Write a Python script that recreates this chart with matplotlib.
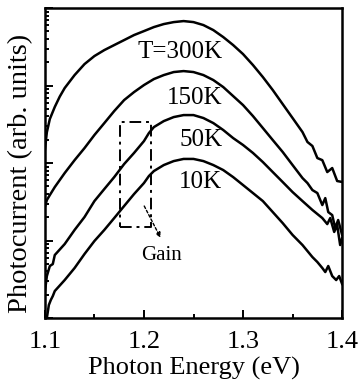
import matplotlib.pyplot as plt

# -----------------------------
# Data (photocurrent, arb. units, log axis)
# -----------------------------
e_300 = [1.100, 1.102, 1.105, 1.11, 1.115, 1.12, 1.13, 1.14, 1.15, 1.16, 1.17, 1.18, 1.19,
         1.20, 1.21, 1.22, 1.23, 1.24, 1.25, 1.26, 1.27, 1.28, 1.29, 1.30, 1.31, 1.32,
         1.33, 1.34, 1.35, 1.36, 1.365, 1.37, 1.375, 1.38, 1.385, 1.39, 1.395, 1.40]
pc_300 = [147, 250, 370, 530, 720, 929, 1366, 1893, 2404, 2871, 3333, 3865, 4487,
          5047, 5686, 6220, 6592, 6797, 6592, 6037, 5200, 4227, 3333, 2548, 1840, 1288,
          875, 577, 381, 251, 187, 166, 116, 109, 76.5, 86.2, 58.6, 57]

e_150 = [1.100, 1.102, 1.105, 1.11, 1.12, 1.13, 1.14, 1.15, 1.16, 1.17, 1.18, 1.19, 1.20,
         1.21, 1.22, 1.23, 1.24, 1.25, 1.26, 1.27, 1.28, 1.29, 1.30, 1.31, 1.32, 1.33,
         1.34, 1.35, 1.36, 1.365, 1.37, 1.375, 1.38, 1.383, 1.386, 1.39, 1.393, 1.396, 1.40]
pc_150 = [27.1, 33.3, 38.6, 49.0, 74.3, 109, 156, 230, 328, 469, 650, 824, 1015,
          1213, 1366, 1494, 1538, 1494, 1366, 1178, 957, 732, 560, 404, 283, 198,
          139, 94.2, 64.0, 55.2, 44.8, 41.0, 28.7, 35.3, 23.3, 21.3, 14.5, 18.4, 11.8]

e_50 = [1.100, 1.102, 1.105, 1.108, 1.11, 1.12, 1.13, 1.14, 1.15, 1.16, 1.17, 1.18, 1.19,
        1.20, 1.205, 1.21, 1.22, 1.23, 1.24, 1.25, 1.26, 1.27, 1.28, 1.29, 1.30, 1.31,
        1.32, 1.33, 1.34, 1.35, 1.36, 1.37, 1.38, 1.385, 1.388, 1.392, 1.395, 1.398, 1.40]
pc_50 = [2.17, 3.48, 4.69, 4.97, 6.50, 9.01, 13.7, 20.1, 32.3, 46.2, 65.9, 97.1, 135,
         192, 244, 291, 348, 392, 416, 416, 381, 328, 267, 210, 171, 135,
         103, 76.5, 56.9, 42.2, 32.3, 24.8, 19.5, 16.3, 19.5, 12.9, 15.8, 8.75, 10.8]

e_10 = [1.102, 1.104, 1.106, 1.108, 1.11, 1.12, 1.13, 1.14, 1.15, 1.16, 1.17, 1.18, 1.19,
        1.20, 1.205, 1.21, 1.22, 1.23, 1.24, 1.25, 1.26, 1.27, 1.28, 1.29, 1.30, 1.31,
        1.32, 1.33, 1.34, 1.35, 1.36, 1.37, 1.375, 1.38, 1.383, 1.386, 1.39, 1.394,
        1.397, 1.40]
pc_10 = [1.0, 1.47, 1.71, 1.92, 2.23, 3.09, 4.42, 6.70, 9.86, 13.7, 19.5, 27.9, 39.8,
         55.2, 68.0, 78.8, 94.2, 106, 113, 113, 106, 94.2, 81.2, 65.9, 52.0, 41.0,
         32.3, 23.3, 16.8, 11.8, 8.75, 6.12, 5.28, 4.42, 3.92, 4.69, 3.48, 3.09,
         3.48, 2.75]

curve_labels = ["T=300K", "150K", "50K", "10K"]
label_y = [2700, 690, 198, 57]

# gain box + arrow
box_x = [1.176, 1.207, 1.207, 1.176, 1.176]
box_y = [15, 15, 340, 340, 15]

# -----------------------------
# Plot
# -----------------------------
plt.rcParams["font.family"] = ["Liberation Serif", "DejaVu Serif"]

fig = plt.figure(figsize=(3.59, 3.85), dpi=100)
ax = fig.add_axes([0.125, 0.174, 0.828, 0.805])

for e, pc in [(e_300, pc_300), (e_150, pc_150), (e_50, pc_50), (e_10, pc_10)]:
    ax.plot(e, pc, color="black", lw=1.8)

for txt, y in zip(curve_labels, label_y):
    ax.text(1.279, y, txt, fontsize=18, ha="right", va="center")

ax.plot(box_x, box_y, color="black", lw=1.4, dashes=(6, 2.5, 1.5, 2.5))
ax.annotate("", xy=(1.218, 10.1), xytext=(1.199, 30),
            arrowprops=dict(arrowstyle="-|>", lw=1.0, ls=(0, (2, 1.5)),
                            color="black", mutation_scale=7))
ax.text(1.218, 6.5, "Gain", fontsize=15, ha="center", va="center")

ax.set_yscale("log")
ax.set_xlim(1.1, 1.4)
ax.set_ylim(1, 1e4)
ax.set_xticks([1.1, 1.2, 1.3, 1.4])
ax.set_xticks([1.15, 1.25, 1.35], minor=True)
ax.tick_params(which="both", direction="in", top=False, right=False, labelsize=19,
               width=1.4, pad=9)
ax.tick_params(which="major", length=6)
ax.tick_params(which="minor", length=3)
ax.tick_params(axis="y", which="both", labelleft=False)
for s in ax.spines.values():
    s.set_linewidth(1.8)

ax.set_xlabel("Photon Energy (eV)", fontsize=19, labelpad=3)
ax.set_ylabel("Photocurrent (arb. units)", fontsize=20.5)
ax.yaxis.set_label_coords(-0.04, 0.465)

fig.savefig("out.png", dpi=100)
